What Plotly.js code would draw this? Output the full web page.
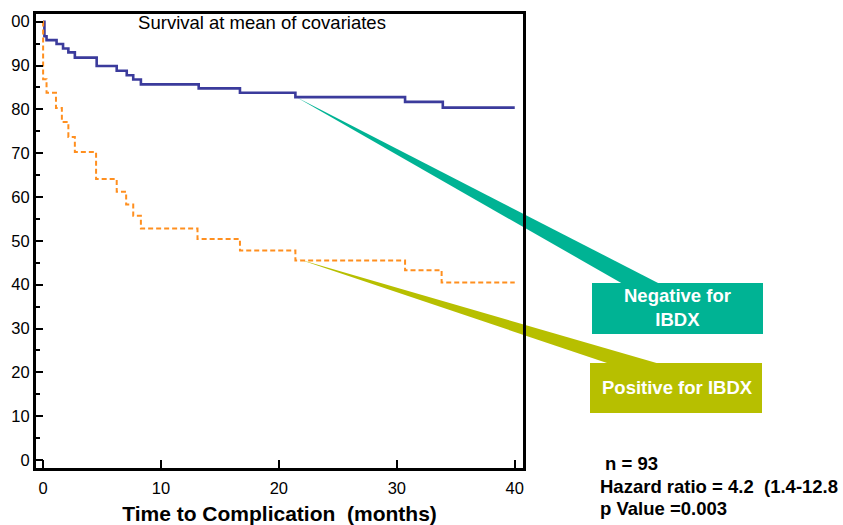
<!DOCTYPE html>
<html>
<head>
<meta charset="utf-8">
<script src="https://cdn.plot.ly/plotly-3.0.1.min.js"></script>
<style>html,body{margin:0;padding:0;background:#fff;}#chart{width:843px;height:525px;}</style>
</head>
<body>
<div id="chart"></div>
<script>
// ---- Data ----
const timeNeg = [0, 0.12, 0.3, 1.15, 1.7, 2.15, 2.7, 4.55, 6.25, 7.1, 7.65, 8.3, 13.2, 16.7, 21.4, 30.7, 33.9, 40];
const survNeg = [100, 96.7, 95.8, 94.9, 93.9, 93.0, 91.8, 89.9, 88.8, 87.8, 86.8, 85.7, 84.8, 83.8, 82.8, 81.7, 80.4, 80.4];
const timePos = [0, 0.01, 0.3, 1.1, 1.6, 2.15, 2.7, 4.5, 6.25, 7.05, 7.65, 8.3, 13.1, 16.7, 21.4, 30.7, 33.8, 40];
const survPos = [100, 86.9, 83.8, 80.3, 77.1, 73.7, 70.3, 64.1, 61.2, 58.3, 55.7, 52.8, 50.4, 47.8, 45.5, 43.3, 40.5, 40.5];
const xTickVals = [0, 10, 20, 30, 40];
const xTickText = ["0", "10", "20", "30", "40"];
const yTickVals = [0, 10, 20, 30, 40, 50, 60, 70, 80, 90, 100];
const yTickText = ["0", "10", "20", "30", "40", "50", "60", "70", "80", "90", "00"];
const yMinorVals = [5, 15, 25, 35, 45, 55, 65, 75, 85, 95];
const labelNeg = "Negative for<br>IBDX";
const labelPos = "Positive for IBDX";
const statLines = ["n = 93", "Hazard ratio = 4.2\u00a0\u00a0(1.4-12.8", "p Value =0.003"];

// ---- Layout helpers (pixel -> paper) ----
const L = 36, T = 14, PW = 487, PH = 454;
const px = x => (x - L) / PW;
const py = y => (T + PH - y) / PH;
const poly = pts => "M" + pts.map(p => px(p[0]) + "," + py(p[1])).join(" L") + " Z";

const FONT = "Arial, 'Liberation Sans', sans-serif";
const teal = "#00B394";
const olive = "#B7BF00";

const traces = [
  {x: timeNeg, y: survNeg, type: "scatter", mode: "lines", line: {shape: "hv", color: "#3B3B9C", width: 2.6}, name: "Negative for IBDX", hoverinfo: "x+y"},
  {x: timePos, y: survPos, type: "scatter", mode: "lines", line: {shape: "hv", color: "#FF8F1F", width: 2, dash: "5px,3px"}, name: "Positive for IBDX", hoverinfo: "x+y"}
];

const shapes = [
  {type: "path", xref: "paper", yref: "paper", layer: "below", path: poly([[296, 97], [623, 284], [660, 284]]), fillcolor: teal, line: {width: 0}},
  {type: "rect", xref: "paper", yref: "paper", layer: "below", x0: px(592), x1: px(763), y0: py(334), y1: py(283), fillcolor: teal, line: {width: 0}},
  {type: "path", xref: "paper", yref: "paper", layer: "below", path: poly([[298, 259], [610, 364], [660, 364]]), fillcolor: olive, line: {width: 0}},
  {type: "rect", xref: "paper", yref: "paper", layer: "below", x0: px(590), x1: px(762), y0: py(413), y1: py(363), fillcolor: olive, line: {width: 0}}
];

const boxFont = {family: FONT, size: 18.5, color: "#ffffff", weight: "bold"};
const statFont = {family: FONT, size: 18.5, color: "#000", weight: "bold"};
const annotations = [
  {xref: "paper", yref: "paper", x: px(677), y: py(308), text: labelNeg, showarrow: false, xanchor: "center", yanchor: "middle", font: boxFont},
  {xref: "paper", yref: "paper", x: px(677), y: py(387), text: labelPos, showarrow: false, xanchor: "center", yanchor: "middle", font: boxFont},
  {xref: "paper", yref: "paper", x: px(603), y: py(463), text: statLines[0], showarrow: false, xanchor: "left", yanchor: "middle", font: statFont},
  {xref: "paper", yref: "paper", x: px(598), y: py(486), text: statLines[1], showarrow: false, xanchor: "left", yanchor: "middle", font: statFont},
  {xref: "paper", yref: "paper", x: px(598), y: py(508), text: statLines[2], showarrow: false, xanchor: "left", yanchor: "middle", font: statFont}
];

const layout = {
  width: 843, height: 525,
  margin: {l: L, r: 843 - L - PW, t: T, b: 525 - T - PH, pad: 0},
  paper_bgcolor: "#ffffff", plot_bgcolor: "#ffffff",
  showlegend: false,
  font: {family: FONT, color: "#000"},
  title: {text: "Survival at mean of covariates", x: 262 / 843, xanchor: "center", y: 1 - 23 / 525, yanchor: "middle", font: {family: FONT, size: 18.5, color: "#000"}},
  xaxis: {
    range: [-0.594, 40.7], tickvals: xTickVals, ticktext: xTickText,
    ticks: "inside", ticklen: 8, tickwidth: 2, tickcolor: "#000",
    showline: true, linewidth: 3, linecolor: "#000", mirror: true,
    showgrid: false, zeroline: false,
    tickfont: {family: FONT, size: 16.5, color: "#000"},
    ticklabelstandoff: 3,
    title: {text: "Time to Complication\u00a0\u00a0(months)", font: {family: FONT, size: 21, color: "#000", weight: "bold"}, standoff: 19}
  },
  yaxis: {
    range: [-1.83, 101.76], tickvals: yTickVals, ticktext: yTickText,
    ticks: "inside", ticklen: 7, tickwidth: 2, tickcolor: "#000",
    minor: {tickvals: yMinorVals, ticks: "inside", ticklen: 4, tickwidth: 2, tickcolor: "#000"},
    showline: true, linewidth: 3, linecolor: "#000", mirror: true,
    showgrid: false, zeroline: false,
    tickfont: {family: FONT, size: 16.5, color: "#000"},
    ticklabelstandoff: 0
  },
  shapes: shapes,
  annotations: annotations
};

Plotly.newPlot("chart", traces, layout, {displayModeBar: false, staticPlot: true});
</script>
</body>
</html>
